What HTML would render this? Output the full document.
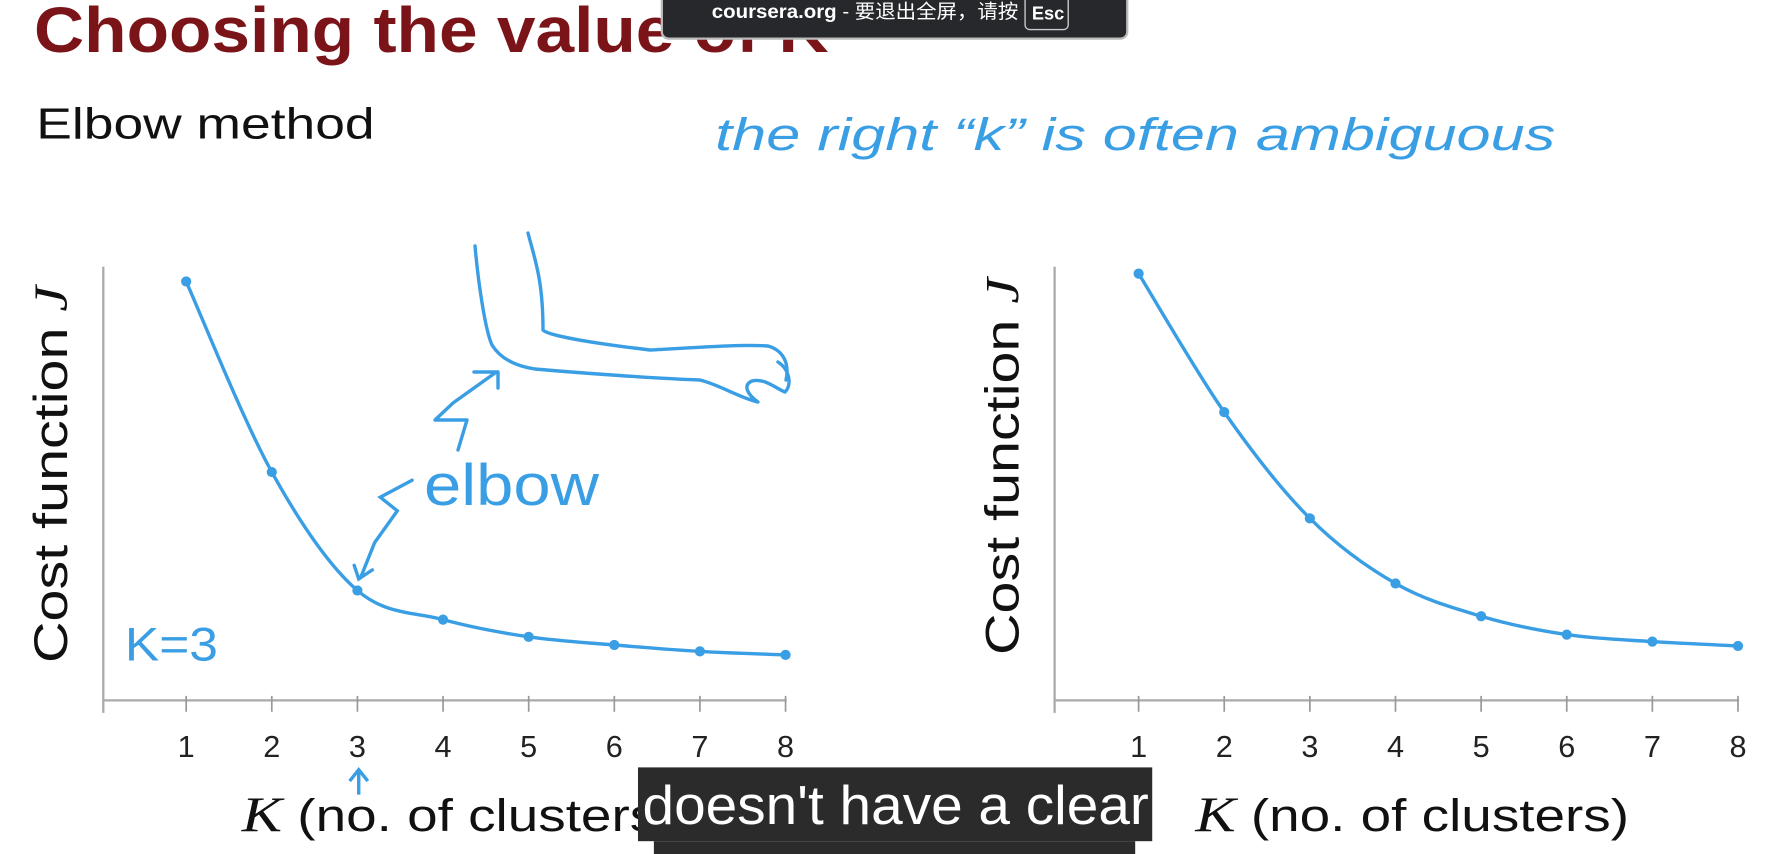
<!DOCTYPE html>
<html><head><meta charset="utf-8"><style>
html,body{margin:0;padding:0;background:#fff;width:1780px;height:854px;overflow:hidden}
svg{display:block}
</style></head><body>
<svg id="s" width="1780" height="854" viewBox="0 0 1780 854" xmlns="http://www.w3.org/2000/svg">
<g id="g" transform="scale(1.1352)">
<text x="30" y="46" font-family="Liberation Sans, sans-serif" font-weight="bold" font-size="56" fill="#7b1418" textLength="700" lengthAdjust="spacingAndGlyphs">Choosing the value of K</text>
<text x="32" y="122" font-family="Liberation Sans, sans-serif" font-size="38" fill="#111" textLength="298" lengthAdjust="spacingAndGlyphs">Elbow method</text>
<text x="630" y="132" font-family="Liberation Sans, sans-serif" font-style="italic" font-size="40" fill="#3a9ee4" textLength="740" lengthAdjust="spacingAndGlyphs">the right “k” is often ambiguous</text>
<text x="110" y="582" font-family="Liberation Sans, sans-serif" font-size="42" fill="#3a9ee4" textLength="82" lengthAdjust="spacingAndGlyphs">K=3</text>
<path d="M316 700 L316 678 M308 688 L316 678 L324 688" stroke="#3a9ee4" stroke-width="3" fill="none"/>
<path d="M363 423 L335 438 L350 450 L330 478 L318 508 M312 498 L316 510 L328 502" stroke="#3a9ee4" stroke-width="3" fill="none" stroke-linecap="round"/>
<g id="charts"></g>
<rect x="562" y="676" width="453" height="65" fill="#2b2b2b"/>
<rect x="576" y="741" width="424" height="15" fill="#2b2b2b"/>
<text x="566" y="726" font-family="Liberation Sans, sans-serif" font-size="48" fill="#fff" textLength="446" lengthAdjust="spacingAndGlyphs">doesn't have a clear</text>
<rect x="583" y="-8" width="410" height="42" rx="6" fill="#26282c" stroke="#bbb" stroke-width="2"/>
<text x="627" y="16" font-family="Liberation Sans, 'Noto Sans CJK SC', sans-serif" font-size="17" fill="#fff" textLength="270" lengthAdjust="spacingAndGlyphs"><tspan font-weight="bold">coursera.org</tspan>  -  要退出全屏，请按</text>
<rect x="903" y="-4" width="38" height="30" rx="4" fill="none" stroke="#ccc" stroke-width="1.2"/>
<text x="909" y="17" font-family="Liberation Sans, sans-serif" font-size="16" font-weight="bold" fill="#fff">Esc</text>
</g>
<g fill="none" stroke="#3a9ee4" stroke-width="3.4" stroke-linecap="round" stroke-linejoin="round">
<path d="M475 246 C478 280 485 330 492 345 C500 358 515 366 535 369 C580 373 650 378 700 380 C720 385 740 398 758 402 C748 395 742 385 752 381 C765 378 775 388 785 392 C792 385 790 370 778 362"/>
<path d="M528 233 C535 260 543 280 543 330 C548 336 600 344 650 350 C690 348 740 344 768 346 C782 350 790 362 786 380"/>
<path d="M458 450 L467 420 L435 420 L453 403 L495 373 M474 372 L498 372 L498 388"/>
</g>
<text x="424" y="505" font-family="Liberation Sans, sans-serif" font-size="58" fill="#3a9ee4" textLength="175" lengthAdjust="spacingAndGlyphs">elbow</text>
</svg>
<script>
const categories=[1,2,3,4,5,6,7,8];
const leftCost=[100,55.6,28,21.2,17.2,15.3,13.8,13];
const rightCost=[100,68.3,44,29.1,21.6,17.4,15.8,14.8];
const tickLabels=["1","2","3","4","5","6","7","8"];
const NS="http://www.w3.org/2000/svg";
const root=document.getElementById('charts');
function mk(tag,attrs,parent){const e=document.createElementNS(NS,tag);for(const k in attrs)e.setAttribute(k,attrs[k]);parent.appendChild(e);return e;}
function smooth(p){let d=`M${p[0][0]} ${p[0][1]}`;for(let i=0;i<p.length-1;i++){const p0=p[i-1]||p[i],p1=p[i],p2=p[i+1],p3=p[i+2]||p2;const c1=[p1[0]+(p2[0]-p0[0])/6,p1[1]+(p2[1]-p0[1])/6],c2=[p2[0]-(p3[0]-p1[0])/6,p2[1]-(p3[1]-p1[1])/6];d+=` C${c1[0]} ${c1[1]} ${c2[0]} ${c2[1]} ${p2[0]} ${p2[1]}`;}return d;}
function drawChart(ax,x1,x8,yTop,yBot,values,id,titleX){
  const g=mk('g',{},root);
  
  
  const xs=k=>x1+(k-1)*(x8-x1)/7;
  const y0=617;
  const ys=v=>yBot-(v/100)*(yBot-yTop);
  const a=mk('path',{d:`M${ax} 235 L${ax} 628 M${ax} ${y0} L${x8+1} ${y0}`,stroke:'#aaa','stroke-width':2,fill:'none'},g);
  
  
  categories.forEach((k,i)=>{
    const t=mk('line',{x1:xs(k),x2:xs(k),y1:y0-4,y2:y0+10,stroke:'#999','stroke-width':1.5},g);
    
    
    const l=mk('text',{x:xs(k),y:667,'text-anchor':'middle','font-family':'Liberation Sans, sans-serif','font-size':27,fill:'#222'},g);
    l.textContent=tickLabels[i];
    
    
  });
  const pts=categories.map((k,i)=>[xs(k),ys(values[i])]);
  const line=mk('path',{d:smooth(pts),stroke:'#3a9ee4','stroke-width':3,fill:'none','stroke-linejoin':'round'},g);
  
  
  categories.forEach((k,i)=>{
    const c=mk('circle',{cx:xs(k),cy:ys(values[i]),r:4.5,fill:'#3a9ee4'},g);
    
    
  });
  const yl=mk('text',{transform:`translate(${ax-32},${yTop+170}) rotate(-90)`,'text-anchor':'middle','font-family':'Liberation Sans, sans-serif','font-size':42,fill:'#111',textLength:332,lengthAdjust:'spacingAndGlyphs'},g);
  yl.innerHTML='Cost function <tspan font-family="Liberation Serif, serif" font-style="italic">J</tspan>';
  
  
  const xl=mk('text',{x:titleX,y:732,'font-family':'Liberation Sans, sans-serif','font-size':40,fill:'#111',textLength:382,lengthAdjust:'spacingAndGlyphs'},g);
  xl.innerHTML='<tspan font-family="Liberation Serif, serif" font-style="italic" font-size="44">K</tspan> (no. of clusters)';
  
  
}
drawChart(91,164,692,248,626,leftCost,'left-chart',213);
drawChart(929,1003,1531,241,626,rightCost,'right-chart',1053);
</script>
</body></html>
